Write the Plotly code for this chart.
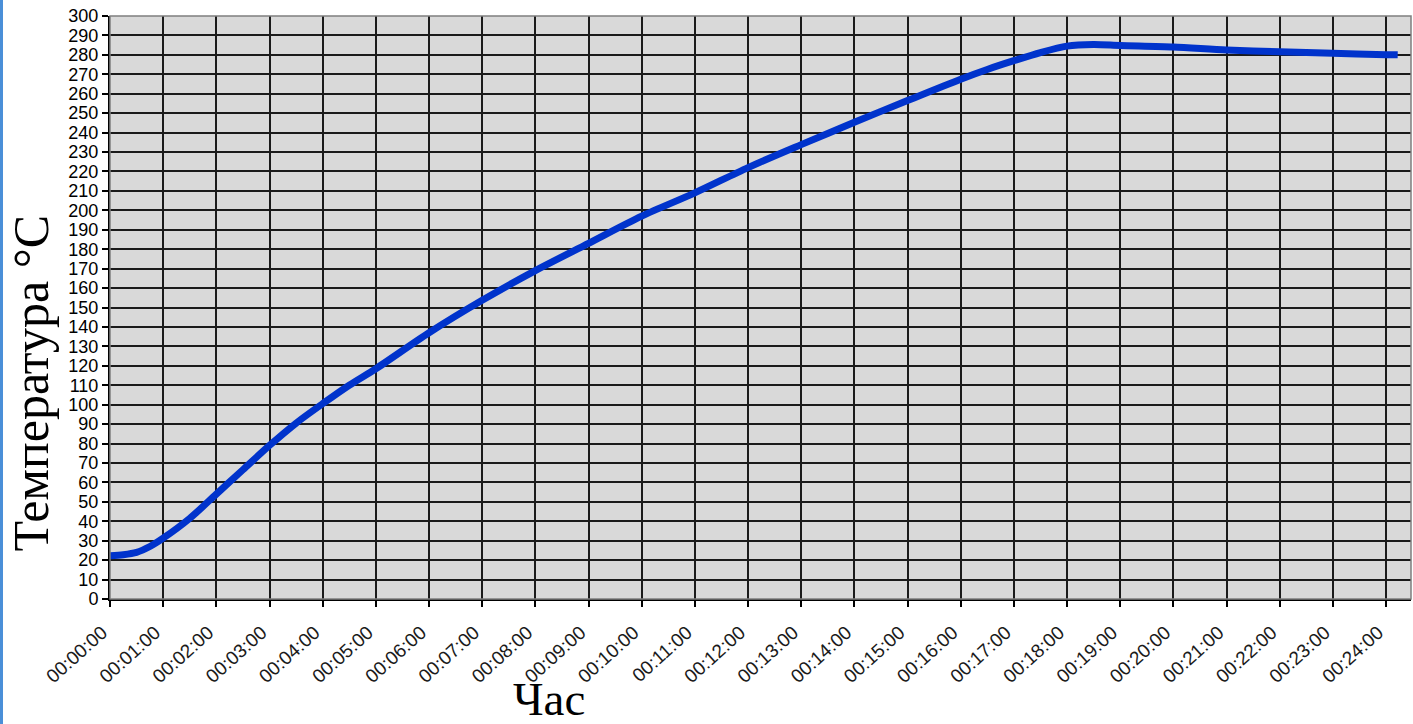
import plotly.graph_objects as go

# time in minutes, temperature in °C
minutes = [0, 0.25, 0.5, 0.75, 1, 1.5, 2, 2.5, 3, 3.5, 4, 4.5, 5, 6, 7, 8, 9, 10,
           11, 12, 13, 14, 15, 16, 16.5, 17, 17.5, 18, 18.5, 19, 20, 21, 22, 23, 24, 24.22]
temperature = [22.3, 22.8, 24.0, 27.0, 31.3, 41.5, 54.0, 66.5, 79.0, 90.5, 100.5, 110.0,
               118.5, 137.0, 153.7, 169.0, 183.0, 197.0, 209.0, 222.0, 233.8, 245.3,
               256.5, 267.5, 272.5, 277.0, 281.2, 284.5, 285.3, 284.8, 284.0, 282.5, 281.6,
               280.8, 280.1, 280.0]

x_tick_vals = list(range(0, 25))
x_tick_text = ["00:%02d:00\u00a0\u00a0" % m for m in x_tick_vals]
y_tick_vals = list(range(0, 301, 10))

fig = go.Figure()
fig.add_trace(go.Scatter(
    x=minutes, y=temperature, mode="lines",
    line=dict(color="#0033cc", width=7, shape="spline", smoothing=0.8),
    showlegend=False, hoverinfo="skip"))

tick_font = dict(family="Liberation Sans, Arial, sans-serif", size=18, color="black")
xtick_font = dict(family="Liberation Sans, Arial, sans-serif", size=19, color="#1a1a1a")

fig.update_layout(
    width=1413, height=724,
    margin=dict(l=110, r=2, t=16, b=125),
    paper_bgcolor="white",
    plot_bgcolor="#d9d9d9",
    xaxis=dict(
        range=[0, 24.47], tickmode="array", tickvals=x_tick_vals, ticktext=x_tick_text,
        tickangle=-42, tickfont=xtick_font, ticks="outside", ticklen=6, tickwidth=1.5,
        tickcolor="black", showgrid=True, gridcolor="#1a1a1a", gridwidth=1.5,
        showline=True, linecolor="black", linewidth=2, mirror=False, zeroline=False),
    yaxis=dict(
        range=[0, 300], tickmode="array", tickvals=y_tick_vals,
        tickfont=tick_font, ticks="outside", ticklen=6, tickwidth=1.5, tickcolor="black",
        showgrid=True, gridcolor="#1a1a1a", gridwidth=1.5,
        showline=True, linecolor="black", linewidth=2, zeroline=False),
    annotations=[
        dict(text="Температура °C", textangle=-90, xref="paper", yref="paper",
             xanchor="center", yanchor="middle", x=0, y=0.5,
             xshift=-80, yshift=-76, showarrow=False,
             font=dict(family="Liberation Serif, Times New Roman, serif", size=50, color="black")),
        dict(text="Час", xref="paper", yref="paper", x=0.5, y=0,
             xanchor="center", yanchor="middle", xshift=-212, yshift=-100, showarrow=False,
             font=dict(family="Liberation Serif, Times New Roman, serif", size=47, color="black")),
    ],
    shapes=[
        dict(type="rect", xref="paper", yref="paper", x0=0, x1=1, y0=0, y1=1,
             line=dict(color="#7f7f7f", width=1.5), layer="above"),
        dict(type="line", xref="paper", yref="paper", xsizemode="pixel", xanchor=0,
             x0=-108.5, x1=-108.5, y0=-0.3, y1=1.1,
             line=dict(color="#4a8fd8", width=3), layer="above"),
    ],
)

fig.write_html("out.html", config={"displayModeBar": False},
               post_script="document.body.style.margin='0';document.body.style.overflow='hidden';")
